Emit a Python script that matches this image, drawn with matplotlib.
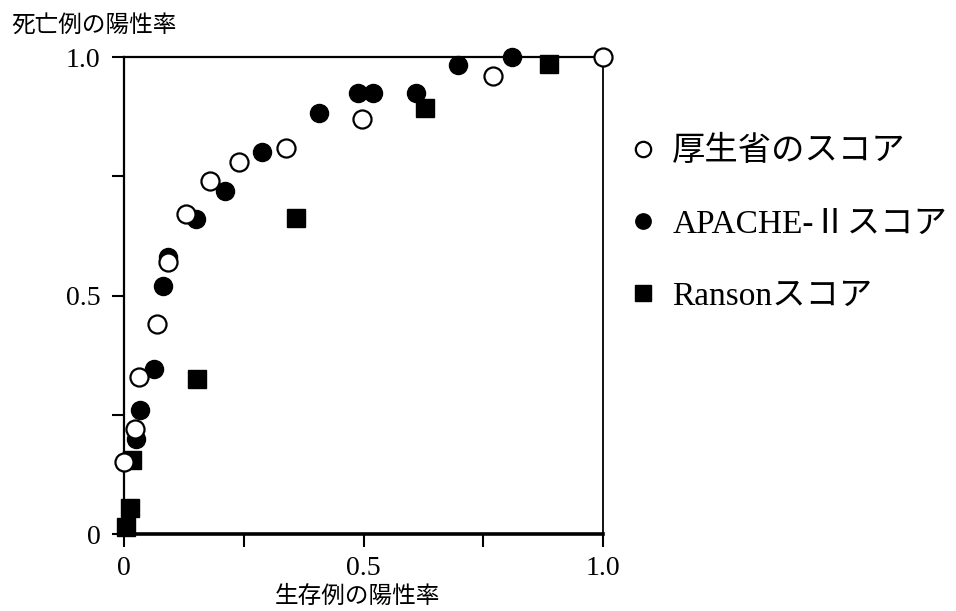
import matplotlib as mpl
import matplotlib.pyplot as plt

mpl.use('Agg')

plt.rcParams['font.family'] = ['Liberation Serif', 'Noto Sans CJK JP']

# 厚生省のスコア (白丸)
kousei_x = [0.0, 0.023, 0.031, 0.069, 0.092, 0.129, 0.180, 0.240, 0.338, 0.497, 0.77, 1.0]
kousei_y = [0.15, 0.22, 0.33, 0.44, 0.57, 0.67, 0.74, 0.78, 0.81, 0.87, 0.96, 1.0]

# APACHE-II スコア (黒丸)
apache_x = [0.025, 0.033, 0.063, 0.081, 0.092, 0.150, 0.211, 0.288, 0.407, 0.489, 0.52, 0.61, 0.698, 0.81]
apache_y = [0.20, 0.26, 0.345, 0.52, 0.58, 0.66, 0.72, 0.80, 0.883, 0.925, 0.925, 0.925, 0.983, 1.0]

# Ranson スコア (黒四角)
ranson_x = [0.004, 0.012, 0.017, 0.152, 0.359, 0.628, 0.887]
ranson_y = [0.015, 0.055, 0.155, 0.325, 0.662, 0.893, 0.985]

labels = ['厚生省のスコア', 'APACHE-\u2161スコア', 'Ransonスコア']

fig = plt.figure(figsize=(9.56, 6.11), dpi=100)
ax = fig.add_axes([0.1297, 0.126, 0.5011, 0.7807])

h3, = ax.plot(ranson_x, ranson_y, ls='none', marker='s', ms=13, color='black',
              clip_on=False, zorder=3)
h2, = ax.plot(apache_x, apache_y, ls='none', marker='o', ms=13, color='black',
              clip_on=False, zorder=4)
h1, = ax.plot(kousei_x, kousei_y, ls='none', marker='o', ms=13, mfc='white',
              mec='black', mew=1.6, clip_on=False, zorder=5)

ax.set_xlim(0, 1)
ax.set_ylim(0, 1)
ax.set_xticks([0, 0.25, 0.5, 0.75, 1.0])
ax.set_xticklabels(['0', '', '0.5', '', '1.0'])
ax.set_yticks([0, 0.25, 0.5, 0.75, 1.0])
ax.set_yticklabels(['0', '', '0.5', '', '1.0'])
ax.tick_params(direction='out', length=9, width=1.5, labelsize=20, pad=8)
ax.tick_params(axis='x', pad=7)

ax.spines['bottom'].set_linewidth(2.6)
ax.spines['left'].set_linewidth(1.6)
ax.spines['top'].set_linewidth(1.6)
ax.spines['right'].set_linewidth(1.3)

fig.text(0.012, 0.959, '死亡例の陽性率', fontsize=17,
         family=['Noto Sans CJK JP'], va='center', ha='left')
fig.text(0.374, 0.024, '生存例の陽性率', fontsize=17,
         family=['Noto Sans CJK JP'], va='center', ha='center')

leg = fig.legend([h1, h2, h3], labels, loc='upper left',
                 bbox_to_anchor=(0.631, 0.826), frameon=False,
                 fontsize=24, markerscale=0.85, handlelength=0.6,
                 handletextpad=0.57, labelspacing=1.25)

fig.savefig('out.png', dpi=100)
